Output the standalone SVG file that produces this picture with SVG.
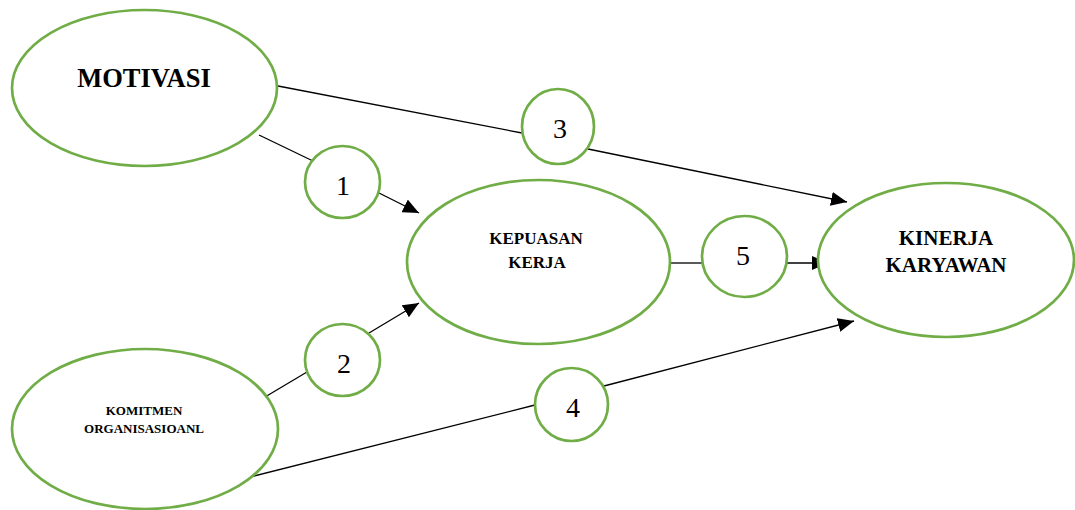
<svg xmlns="http://www.w3.org/2000/svg" width="1075" height="510" viewBox="0 0 1075 510">
  <style>
    .node { fill: #ffffff; stroke: #70AD47; stroke-width: 2.7; }
    .link { fill: none; stroke: #000000; stroke-width: 1.3; }
    .lbl { font-family: "Liberation Serif", "Times New Roman", serif; font-weight: bold; fill: #000000; text-anchor: middle; }
    .num { font-family: "Liberation Serif", "Times New Roman", serif; font-size: 28px; fill: #000000; text-anchor: middle; }
  </style>
  <defs>
    <marker id="arrow" markerUnits="userSpaceOnUse" markerWidth="17" markerHeight="14" refX="16" refY="7" orient="auto">
      <path d="M0,0 L16,7 L0,14 z" fill="#000000"/>
    </marker>
  </defs>
  <rect width="1075" height="510" fill="#ffffff"/>

  <!-- connectors -->
  <g id="connectors">
    <line class="link" x1="259" y1="135" x2="313" y2="161"/>
    <line class="link" x1="379" y1="193" x2="419" y2="213" marker-end="url(#arrow)"/>
    <line class="link" x1="265" y1="397" x2="307" y2="372"/>
    <line class="link" x1="369" y1="333" x2="419" y2="303" marker-end="url(#arrow)"/>
    <line class="link" x1="278" y1="86" x2="522" y2="133"/>
    <line class="link" x1="588" y1="149" x2="847" y2="202" marker-end="url(#arrow)"/>
    <line class="link" x1="250" y1="477" x2="535" y2="405"/>
    <line class="link" x1="604" y1="386" x2="854" y2="321" marker-end="url(#arrow)"/>
    <line class="link" x1="670" y1="263" x2="702" y2="263"/>
    <line class="link" x1="787" y1="263" x2="828" y2="263" marker-end="url(#arrow)"/>
  </g>

  <g id="motivasi">
    <ellipse class="node" cx="144.5" cy="88" rx="132.5" ry="78"/>
    <text class="lbl" x="144" y="87" font-size="26.5">MOTIVASI</text>
  </g>

  <g id="komitmen">
    <ellipse class="node" cx="145" cy="429" rx="133" ry="80"/>
    <text class="lbl" x="144" y="415" font-size="13">KOMITMEN</text>
    <text class="lbl" x="144" y="433" font-size="13">ORGANISASIOANL</text>
  </g>

  <g id="kepuasan">
    <ellipse class="node" cx="538.5" cy="262" rx="131.5" ry="82"/>
    <text class="lbl" x="536" y="244" font-size="17">KEPUASAN</text>
    <text class="lbl" x="537" y="268" font-size="17">KERJA</text>
  </g>

  <g id="kinerja">
    <ellipse class="node" cx="946" cy="260" rx="128" ry="77"/>
    <text class="lbl" x="946" y="245" font-size="21">KINERJA</text>
    <text class="lbl" x="946" y="272" font-size="21">KARYAWAN</text>
  </g>

  <g id="path1">
    <ellipse class="node" cx="342.5" cy="182" rx="37.5" ry="36"/>
    <text class="num" x="343" y="195">1</text>
  </g>
  <g id="path2">
    <ellipse class="node" cx="342.5" cy="360" rx="37.5" ry="36"/>
    <text class="num" x="344" y="373">2</text>
  </g>
  <g id="path3">
    <ellipse class="node" cx="558" cy="126.5" rx="36" ry="37.5"/>
    <text class="num" x="560" y="138">3</text>
  </g>
  <g id="path4">
    <ellipse class="node" cx="571.5" cy="404.5" rx="36.5" ry="36.5"/>
    <text class="num" x="573" y="417">4</text>
  </g>
  <g id="path5">
    <ellipse class="node" cx="744.5" cy="256.5" rx="42.5" ry="40.5"/>
    <text class="num" x="743" y="265">5</text>
  </g>
</svg>
